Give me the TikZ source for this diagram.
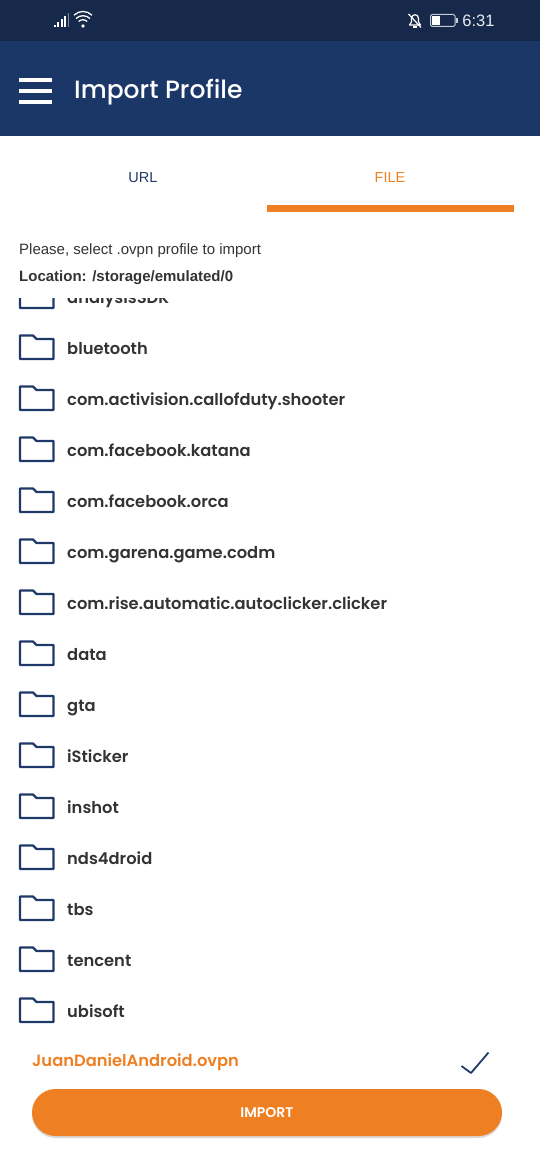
\documentclass[tikz,border=0pt]{standalone}
\usepackage{fontspec}
\setmainfont{Poppins}
\newfontfamily\statusfont{Liberation Sans}
\newfontfamily\titlefont{Poppins Medium}
\newfontfamily\rowfont{Poppins SemiBold}
\usetikzlibrary{shadows}
\definecolor{statusnavy}{HTML}{16294A}
\definecolor{headernavy}{HTML}{1A3768}
\definecolor{folderblue}{HTML}{1F3A68}
\definecolor{accentorange}{HTML}{EE7F22}
\definecolor{inktext}{HTML}{333333}
\tikzset{
    rowlabel/.style={anchor=base west, inner sep=0pt, text=inktext, font=\rowfont\fontsize{16.3}{20}\selectfont},
    tablabel/.style={anchor=base, inner sep=0pt, font=\statusfont\fontsize{14.5}{17}\selectfont},
    infolabel/.style={anchor=base west, inner sep=0pt, text=inktext, font=\statusfont\fontsize{15}{17}\selectfont},
    foldericon/.style={draw=folderblue, line width=2.3pt, line join=round}
}
\begin{document}
\begin{tikzpicture}[x=1pt, y=-1pt]
    \useasboundingbox (0,0) rectangle (540,1156);

    % Status bar and header
    \fill[statusnavy] (0,0) rectangle (540,41);
    \fill[headernavy] (0,41) rectangle (540,136);

    % Signal bars and wifi
    \foreach \i/\h in {0/2, 1/5, 2/8, 3/11} {
        \fill[white] ({54+3.4*\i},27) rectangle ++(2,-\h);
    }
    \fill[white, opacity=0.45] (67.6,27) rectangle ++(1.4,-14);
    \fill[white] (83,26) circle (1.8);
    \draw[white, line width=1.3pt] (78.7,21.5) arc[start angle=-135, end angle=-45, radius=6];
    \draw[white, line width=1.3pt] (76,18.6) arc[start angle=-135, end angle=-45, radius=9.9];
    \draw[white, line width=1.3pt] (74,15.2) arc[start angle=-135, end angle=-45, radius=12.7];

    % Muted bell
    \draw[white, line width=1.2pt, line join=round] (409.5,25) -- (411.5,22) -- (411.5,18.5) .. controls (411.5,13.5) and (418.5,13.5) .. (418.5,18.5) -- (418.5,22) -- (420.5,25) -- cycle;
    \draw[white, line width=1.2pt] (408.5,14) -- (421,27.5);
    \fill[white] (413,26) rectangle (417,28);

    % Battery
    \draw[white!75!headernavy, line width=1pt, rounded corners=1.5pt] (430.5,14.5) rectangle (455,26.5);
    \fill[white] (432,16) rectangle (440,25);
    \fill[white!75!headernavy] (456,18) rectangle (458,23);
    \node[anchor=base, inner sep=0pt, text=white!90!headernavy, font=\statusfont\fontsize{16.5}{18}\selectfont] (clock) at (478.5,27) {6:31};

    % Menu button and title
    \foreach \y in {80,91,102} {
        \fill[white] (19,{\y-2}) rectangle (52,{\y+2});
    }
    \node[anchor=base west, inner sep=0pt, text=white, font=\titlefont\fontsize{25}{30}\selectfont] (title) at (74,98.5) {Import Profile};

    % Tabs
    \node[tablabel, text=folderblue] (urltab) at (143,182.5) {URL};
    \node[tablabel, text=accentorange] (filetab) at (390,182.5) {FILE};
    \fill[accentorange] (266.5,205) rectangle (514,212);

    % Intro lines
    \node[infolabel] (prompt) at (19,254) {Please, select .ovpn profile to import};
    \node[infolabel, font=\statusfont\bfseries\fontsize{15}{17}\selectfont] (location) at (19,281.5) {Location: /storage/emulated/0};

    % Folder list, the top row is cut off
    \begin{scope}
        \clip (0,298) rectangle (540,1030);
        \foreach \y/\name in {297/analysisSDK, 348/bluetooth, 399/com.activision.callofduty.shooter,
            450/com.facebook.katana, 501/com.facebook.orca, 552/com.garena.game.codm,
            603/com.rise.automatic.autoclicker.clicker, 654/data, 705/gta, 756/iSticker,
            807/inshot, 858/nds4droid, 909/tbs, 960/tencent, 1011/ubisoft} {
            \draw[foldericon] (20,\y-12.5) -- (33,\y-12.5) -- (36.5,\y-9) -- (53.5,\y-9) -- (53.5,\y+11) -- (20,\y+11) -- cycle;
            \node[rowlabel] (row\y) at (67,\y+6) {\name};
        }
    \end{scope}

    % Picked file
    \node[rowlabel, text=accentorange] (picked) at (32,1066) {JuanDanielAndroid.ovpn};
    \draw[folderblue, line width=1.8pt, line join=round] (461.5,1066) -- (471,1073) -- (488.5,1052.5);

    % Import button
    \node[fill=accentorange, rounded corners=23.5pt, minimum width=470pt, minimum height=47pt, inner sep=0pt, text=white,
        drop shadow={shadow xshift=0pt, shadow yshift=-2pt, opacity=0.3},
        font=\rowfont\fontsize{14}{16}\selectfont] (importbtn) at (267,1112.5) {IMPORT};
\end{tikzpicture}
\end{document}
